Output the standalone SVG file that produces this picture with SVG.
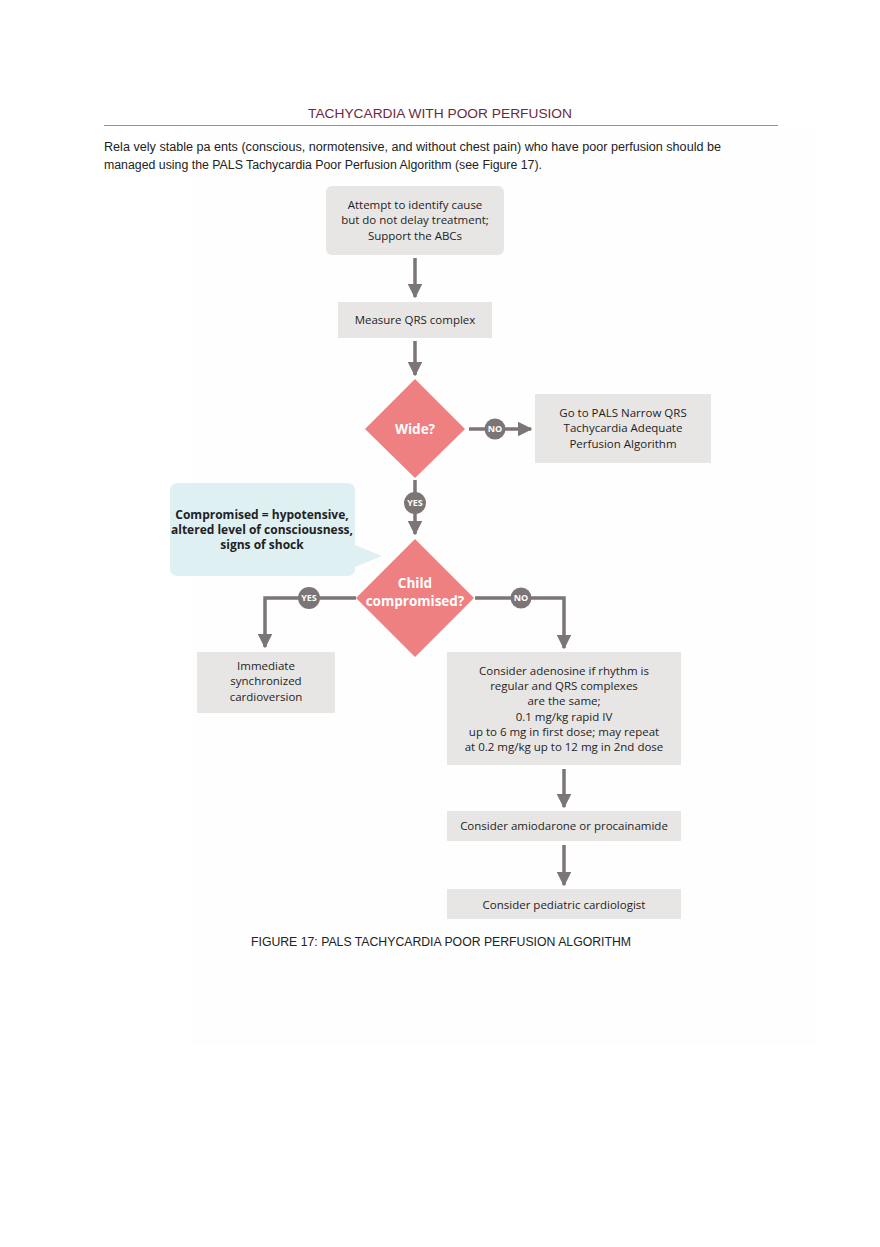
<svg xmlns="http://www.w3.org/2000/svg" width="880" height="1247" viewBox="0 0 880 1247">
<defs>
<marker id="ah" viewBox="0 0 10 10" refX="9" refY="5" markerWidth="4.2" markerHeight="4.2" orient="auto" markerUnits="strokeWidth">
<path d="M0,0 L10,5 L0,10 z" fill="#7b7675"/>
</marker>
<style>
.box{fill:#e8e6e5;}
.t{font-family:"Open Sans","Liberation Sans",sans-serif;font-size:11.5px;font-weight:500;fill:#1e1e1e;text-anchor:middle;}
.tb{font-family:"Open Sans","Liberation Sans",sans-serif;font-size:12px;font-weight:700;fill:#222;text-anchor:middle;}
.dia{fill:#ef8081;}
.dt{font-family:"Open Sans","Liberation Sans",sans-serif;font-size:13.5px;font-weight:700;fill:#fff;text-anchor:middle;}
.conn{stroke:#7b7675;stroke-width:3.5;fill:none;}
.lbl{fill:#7b7675;}
.lt{font-family:"Open Sans","Liberation Sans",sans-serif;font-size:9px;font-weight:700;fill:#fff;text-anchor:middle;}
.doc{font-family:"Liberation Sans",Arial,sans-serif;font-size:12px;fill:#222;}
</style>
</defs>
<rect x="0" y="0" width="880" height="1247" fill="#ffffff"/>
<rect x="190" y="128" width="628" height="917" rx="10" fill="#fefefe"/>

<text x="440" y="118" text-anchor="middle" font-family="Liberation Sans, Arial, sans-serif" font-size="12.5" fill="#6b2a3c" textLength="264" lengthAdjust="spacingAndGlyphs">TACHYCARDIA WITH POOR PERFUSION</text>
<line x1="104" y1="125.5" x2="778" y2="125.5" stroke="#9a8c92" stroke-width="1"/>
<text class="doc" x="104" y="151" textLength="617" lengthAdjust="spacingAndGlyphs">Rela  vely stable pa  ents (conscious, normotensive, and without chest pain) who have poor perfusion should be</text>
<text class="doc" x="104" y="169" textLength="438" lengthAdjust="spacingAndGlyphs">managed using the PALS Tachycardia Poor Perfusion Algorithm (see Figure 17).</text>

<g id="connectors">
<line class="conn" x1="415" y1="258" x2="415" y2="297" marker-end="url(#ah)"/>
<line class="conn" x1="415" y1="341" x2="415" y2="375" marker-end="url(#ah)"/>
<line class="conn" x1="469" y1="429" x2="531" y2="429" marker-end="url(#ah)"/>
<line class="conn" x1="415" y1="480" x2="415" y2="534" marker-end="url(#ah)"/>
<polyline class="conn" points="356,598 265,598 265,647" marker-end="url(#ah)"/>
<polyline class="conn" points="475,598 564,598 564,648" marker-end="url(#ah)"/>
<line class="conn" x1="564" y1="769" x2="564" y2="807" marker-end="url(#ah)"/>
<line class="conn" x1="564" y1="845" x2="564" y2="885" marker-end="url(#ah)"/>
<g id="lbl-no1"><circle class="lbl" cx="495" cy="429" r="10.5"/><text class="lt" x="495" y="432">NO</text></g>
<g id="lbl-yes1"><circle class="lbl" cx="415" cy="503" r="11"/><text class="lt" x="415" y="506">YES</text></g>
<g id="lbl-yes2"><circle class="lbl" cx="309" cy="598" r="11"/><text class="lt" x="309" y="601">YES</text></g>
<g id="lbl-no2"><circle class="lbl" cx="521" cy="598" r="10.5"/><text class="lt" x="521" y="601">NO</text></g>
</g>

<g id="n-start">
<rect class="box" x="326" y="186" width="178" height="69" rx="6"/>
<text class="t" x="415" y="209">Attempt to identify cause</text>
<text class="t" x="415" y="224">but do not delay treatment;</text>
<text class="t" x="415" y="240">Support the ABCs</text>
</g>
<g id="n-measure">
<rect class="box" x="338" y="302" width="154" height="36"/>
<text class="t" x="415" y="324">Measure QRS complex</text>
</g>
<g id="n-wide">
<polygon class="dia" points="415,379 465,429 415,478 365,429"/>
<text class="dt" x="415" y="434">Wide?</text>
</g>
<g id="n-narrow">
<rect class="box" x="535" y="394" width="176" height="69"/>
<text class="t" x="623" y="417">Go to PALS Narrow QRS</text>
<text class="t" x="623" y="432">Tachycardia Adequate</text>
<text class="t" x="623" y="448">Perfusion Algorithm</text>
</g>
<g id="n-callout">
<path d="M178,483 H347 Q355,483 355,491 V545 L382,556 L355,567 V568 Q355,576 347,576 H178 Q170,576 170,568 V491 Q170,483 178,483 Z" fill="#dff0f2"/>
<text class="tb" x="262" y="519">Compromised = hypotensive,</text>
<text class="tb" x="262" y="534">altered level of consciousness,</text>
<text class="tb" x="262" y="549">signs of shock</text>
</g>
<g id="n-child">
<polygon class="dia" points="415,539 474,598 415,657 356,598"/>
<text class="dt" x="415" y="588">Child</text>
<text class="dt" x="415" y="606">compromised?</text>
</g>
<g id="n-cardioversion">
<rect class="box" x="197" y="652" width="138" height="61"/>
<text class="t" x="266" y="670">Immediate</text>
<text class="t" x="266" y="685">synchronized</text>
<text class="t" x="266" y="701">cardioversion</text>
</g>
<g id="n-adenosine">
<rect class="box" x="447" y="652" width="234" height="113"/>
<text class="t" x="564" y="675">Consider adenosine if rhythm is</text>
<text class="t" x="564" y="690">regular and QRS complexes</text>
<text class="t" x="564" y="705">are the same;</text>
<text class="t" x="564" y="721">0.1 mg/kg rapid IV</text>
<text class="t" x="564" y="736">up to 6 mg in first dose; may repeat</text>
<text class="t" x="564" y="751">at 0.2 mg/kg up to 12 mg in 2nd dose</text>
</g>
<g id="n-amiodarone">
<rect class="box" x="447" y="811" width="234" height="30"/>
<text class="t" x="564" y="830">Consider amiodarone or procainamide</text>
</g>
<g id="n-cardiologist">
<rect class="box" x="447" y="889" width="234" height="30"/>
<text class="t" x="564" y="909">Consider pediatric cardiologist</text>
</g>

<text x="251" y="946" font-family="Liberation Sans, Arial, sans-serif" font-size="12" fill="#222" textLength="380" lengthAdjust="spacingAndGlyphs">FIGURE 17: PALS TACHYCARDIA POOR PERFUSION ALGORITHM</text>
</svg>
